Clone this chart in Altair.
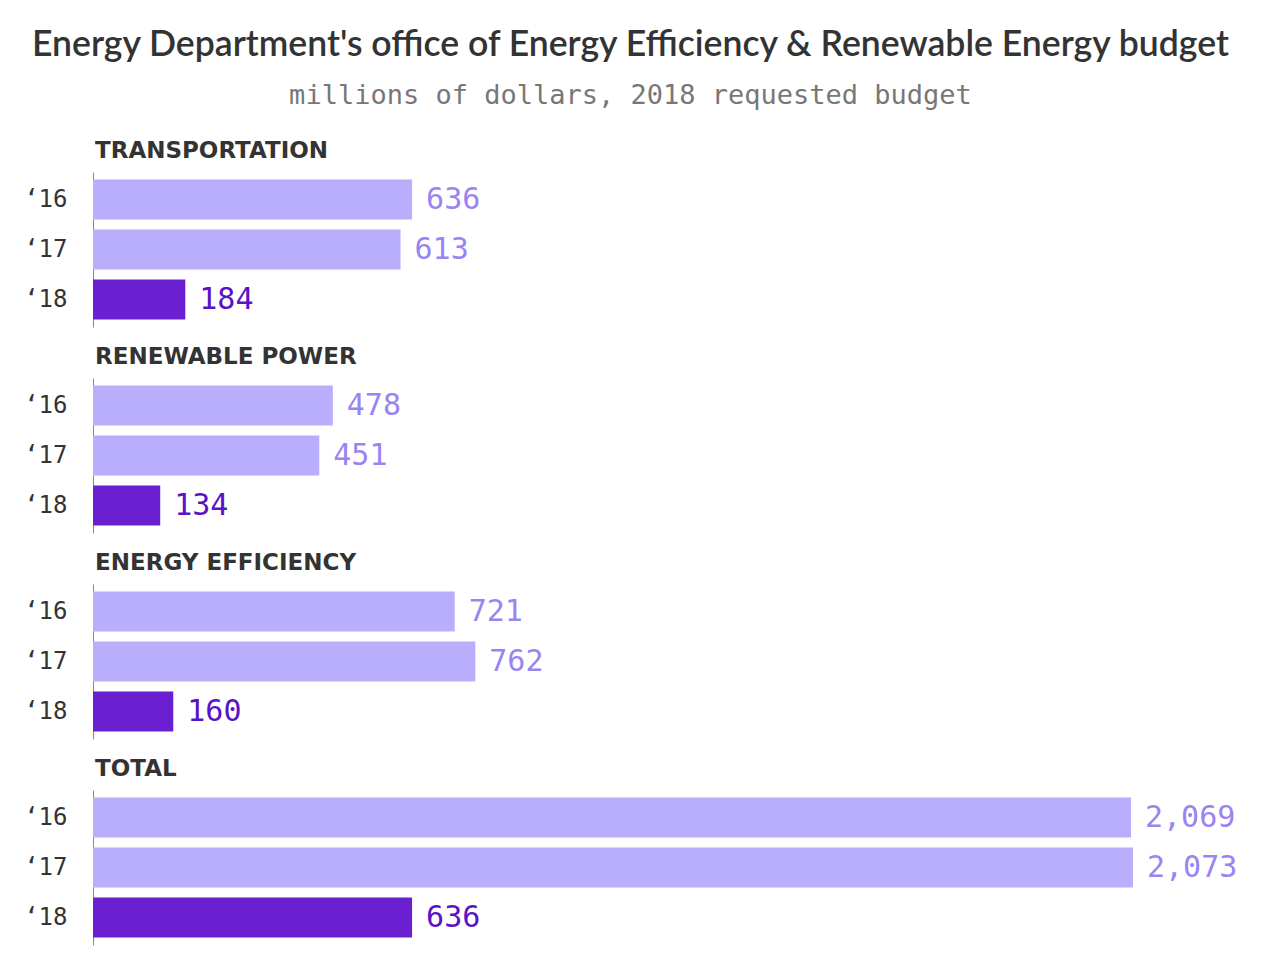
import altair as alt
import pandas as pd

panels = ["TRANSPORTATION", "RENEWABLE POWER", "ENERGY EFFICIENCY", "TOTAL"]
years = ["\u201816", "\u201817", "\u201818"]
values = [
    [636, 613, 184],
    [478, 451, 134],
    [721, 762, 160],
    [2069, 2073, 636],
]

LIGHT_BAR = "#b8aefc"
DARK_BAR = "#6a1fd1"
LIGHT_TXT = "#9a84f2"
DARK_TXT = "#5a12c8"
MONO = "DejaVu Sans Mono"

charts = []
for p, vals in zip(panels, values):
    df = pd.DataFrame({"year": years, "value": vals})
    df["label"] = df["value"].map(lambda v: f"{v:,}")
    base = alt.Chart(df).encode(
        y=alt.Y("year:N", sort=years,
                scale=alt.Scale(paddingInner=0.2, paddingOuter=0.15),
                axis=alt.Axis(title=None, ticks=False, domainColor="#888",
                              domainWidth=1, labelFont=MONO, labelFontSize=24,
                              labelColor="#333", labelPadding=26, grid=False)),
        x=alt.X("value:Q", scale=alt.Scale(domain=[0, 2073], nice=False, zero=True),
                axis=None),
    )
    bars = base.mark_bar().encode(
        color=alt.Color("year:N", scale=alt.Scale(domain=years, range=[LIGHT_BAR, LIGHT_BAR, DARK_BAR]),
                        legend=None)
    )
    text = base.mark_text(align="left", baseline="middle", dx=14, font=MONO, fontSize=30).encode(
        text="label:N",
        color=alt.Color("year:N", scale=alt.Scale(domain=years, range=[LIGHT_TXT, LIGHT_TXT, DARK_TXT]),
                        legend=None),
    )
    c = alt.layer(bars, text).resolve_scale(color="independent").properties(
        width=1040, height=155,
        title=alt.TitleParams(p, anchor="start", frame="group", font="DejaVu Sans", fontSize=23,
                              fontWeight="bold", color="#333", offset=9, dx=2),
    )
    charts.append(c)

chart = alt.vconcat(*charts, spacing=19).properties(
    title=alt.TitleParams(
        "Energy Department's office of Energy Efficiency & Renewable Energy budget",
        subtitle="millions of dollars, 2018 requested budget",
        anchor="middle", font="Lato", fontSize=35.6, fontWeight=600, color="#333",
        subtitleFont=MONO, subtitleFontSize=27, subtitleColor="#777", subtitlePadding=19,
        offset=31,
    ),
    padding={"left": 15, "top": 20, "right": 10, "bottom": 10},
).configure_view(stroke=None)

chart.save("out.html", embed_options={"renderer": "svg", "actions": False})
